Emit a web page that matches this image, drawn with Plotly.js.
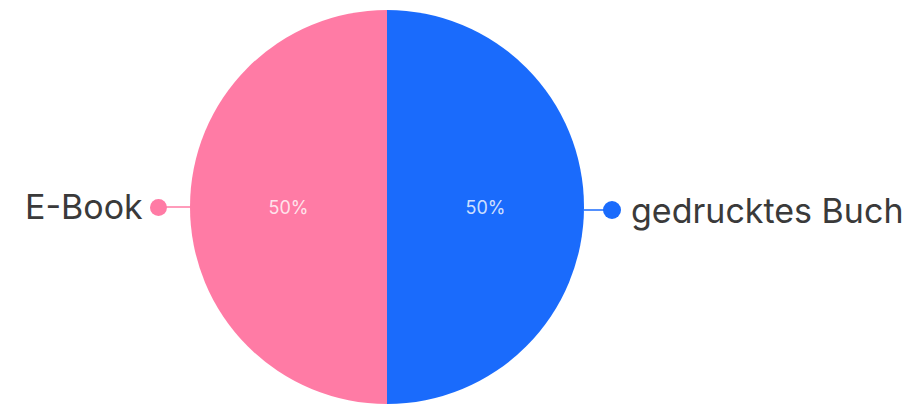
<!DOCTYPE html>
<html>
<head>
<meta charset="utf-8">
<script src="https://cdn.plot.ly/plotly-3.0.1.min.js"></script>
<style>html,body{margin:0;padding:0;background:#fff;}#chart{width:918px;height:405px;}</style>
</head>
<body>
<div id="chart"></div>
<script>
const labels = ["E-Book", "gedrucktes Buch"];
const values = [50, 50];
const colors = ["#ff7ba5", "#1a6bfc"];

const W = 918, H = 405;
const cx = 387, cy = 207, r = 197;
const px = x => x / W;
const py = y => 1 - y / H;

const trace = {
  type: "pie",
  labels: labels,
  values: values,
  sort: false,
  direction: "clockwise",
  rotation: 180,
  marker: {colors: colors, line: {width: 0}},
  textinfo: "percent",
  textposition: "inside",
  insidetextorientation: "horizontal",
  insidetextfont: {family: "Inter, 'DejaVu Sans', sans-serif", size: 18, color: "rgba(255,255,255,0.8)"},
  hoverinfo: "label+percent",
  showlegend: false,
  domain: {x: [px(cx - r), px(cx + r)], y: [py(cy + r), py(cy - r)]}
};

const labelFont = {family: "Inter, 'Open Sans', sans-serif", size: 34, color: "#3a3a3a"};
const layout = {
  width: W, height: H,
  margin: {l: 0, r: 0, t: 0, b: 0},
  paper_bgcolor: "#fff",
  showlegend: false,
  annotations: [
    {x: px(145), y: py(207), xref: "paper", yref: "paper", text: labels[0], showarrow: false, xanchor: "right", yanchor: "middle", font: labelFont},
    {x: px(629), y: py(210), xref: "paper", yref: "paper", text: labels[1], showarrow: false, xanchor: "left", yanchor: "middle", font: labelFont}
  ],
  shapes: [
    {type: "line", xref: "paper", yref: "paper", x0: px(160), x1: px(cx - r), y0: py(207), y1: py(207), line: {color: colors[0], width: 1.5}},
    {type: "circle", xref: "paper", yref: "paper", x0: px(150), x1: px(167), y0: py(199), y1: py(216), fillcolor: colors[0], line: {width: 0}},
    {type: "line", xref: "paper", yref: "paper", x0: px(cx + r), x1: px(612), y0: py(210), y1: py(210), line: {color: colors[1], width: 1.5}},
    {type: "circle", xref: "paper", yref: "paper", x0: px(603), x1: px(621), y0: py(201), y1: py(219), fillcolor: colors[1], line: {width: 0}}
  ]
};

Plotly.newPlot("chart", [trace], layout, {displayModeBar: false, staticPlot: true});
</script>
</body>
</html>
